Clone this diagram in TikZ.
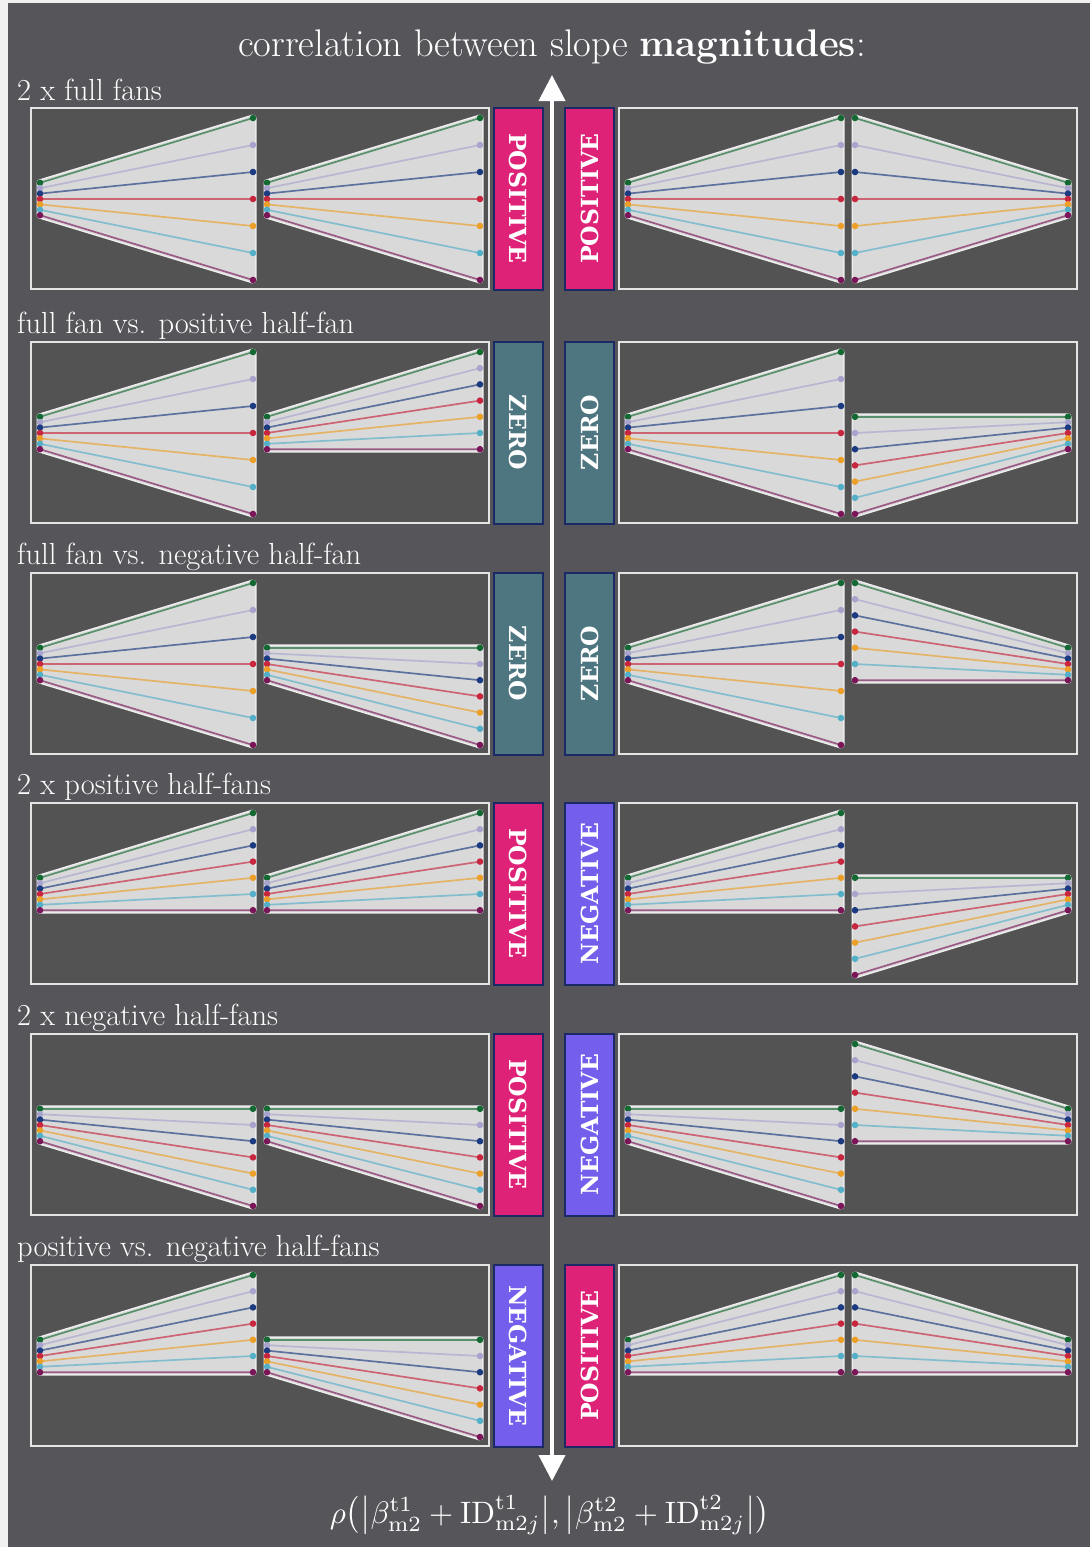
\documentclass[tikz,border=0pt]{standalone}
\usepackage{fontspec}
\usetikzlibrary{arrows.meta}
\newfontfamily\boxfont{DejaVu Serif}
\definecolor{outerbg}{RGB}{86,85,90}
\definecolor{panelbg}{RGB}{83,83,83}
\definecolor{panelline}{RGB}{228,228,228}
\definecolor{fanfill}{RGB}{217,217,217}
\definecolor{fanrim}{RGB}{238,238,238}
\definecolor{posc}{RGB}{221,34,119}
\definecolor{zeroc}{RGB}{78,118,128}
\definecolor{negc}{RGB}{115,95,235}
\definecolor{boxedge}{RGB}{27,42,102}
\definecolor{cg}{RGB}{20,105,50}
\definecolor{cl}{RGB}{168,164,206}
\definecolor{cb}{RGB}{28,58,128}
\definecolor{cr}{RGB}{200,38,62}
\definecolor{co}{RGB}{236,160,40}
\definecolor{cc}{RGB}{84,176,200}
\definecolor{cp}{RGB}{122,22,88}
\tikzset{
  panel/.style={draw=panelline, fill=panelbg, line width=2pt},
  lbox/.style={draw=boxedge, line width=2pt, text=white, inner sep=0pt,
    minimum width=182pt, minimum height=49pt,
    font=\boxfont\bfseries\fontsize{23.5}{26}\selectfont},
  rowlabel/.style={text=white, anchor=base west, inner sep=0pt,
    font=\fontsize{30.5}{34}\selectfont},
}
% #1 xa, #2 xb, #3 ytop, #4 a1, #5 d1, #6 a2, #7 d2
\newcommand{\fanplot}[7]{%
  \draw[fanrim, line width=7pt, line join=round]
    (#1,#3+#4) -- (#2,#3+#6) -- (#2,#3+#6+6*#7) -- (#1,#3+#4+6*#5) -- cycle;
  \filldraw[fill=fanfill, draw=fanfill, line width=4pt, line join=round]
    (#1,#3+#4) -- (#2,#3+#6) -- (#2,#3+#6+6*#7) -- (#1,#3+#4+6*#5) -- cycle;
  \foreach \i/\c in {0/cg,1/cl,2/cb,3/cr,4/co,5/cc,6/cp}{%
    \draw[\c, line width=1.7pt, opacity=.65] (#1,#3+#4+\i*#5) -- (#2,#3+#6+\i*#7);
    \fill[\c] (#1,#3+#4+\i*#5) circle (3.3pt);
    \fill[\c] (#2,#3+#6+\i*#7) circle (3.3pt);
  }%
}
\newcommand{\fanF}[2]{\fanplot{#1}{#1+213}{#2}{74.8}{5.4}{10}{27}}
\newcommand{\fanFm}[2]{\fanplot{#1}{#1+213}{#2}{10}{27}{74.8}{5.4}}
\newcommand{\fanP}[2]{\fanplot{#1}{#1+213}{#2}{74.8}{5.4}{10}{16.2}}
\newcommand{\fanPm}[2]{\fanplot{#1}{#1+213}{#2}{10}{16.2}{74.8}{5.4}}
\newcommand{\fanN}[2]{\fanplot{#1}{#1+213}{#2}{74.8}{5.4}{74.8}{16.2}}
\newcommand{\fanNm}[2]{\fanplot{#1}{#1+213}{#2}{74.8}{16.2}{74.8}{5.4}}
\newcommand{\twopanels}[1]{%
  \draw[panel] (31,#1) rectangle (489,#1+181);
  \draw[panel] (619,#1) rectangle (1077,#1+181);
}
\begin{document}
\begin{tikzpicture}[x=1pt,y=-1pt]
\useasboundingbox (0,0) rectangle (1090,1547);
\fill[white!88!gray] (0,0) rectangle (1090,1547);
\fill[outerbg] (8,3) rectangle (1090,1547);

\node[text=white, anchor=base, inner sep=0pt, font=\fontsize{38.5}{42}\selectfont] (title) at (552,56)
  {correlation between slope \textbf{magnitudes}:};

% row 1
\node[rowlabel] (l1) at (17,100) {2 x full fans};
\twopanels{108}
\fanF{40}{108}\fanF{267}{108}
\fanF{628}{108}\fanFm{855}{108}
\node[lbox, fill=posc, rotate=-90] (b1l) at (518.5,198.5) {POSITIVE};
\node[lbox, fill=posc, rotate=90] (b1r) at (589.5,198.5) {POSITIVE};

% row 2
\node[rowlabel] (l2) at (17,333) {full fan vs. positive half-fan};
\twopanels{342}
\fanF{40}{342}\fanP{267}{342}
\fanF{628}{342}\fanNm{855}{342}
\node[lbox, fill=zeroc, rotate=-90] (b2l) at (518.5,432.5) {ZERO};
\node[lbox, fill=zeroc, rotate=90] (b2r) at (589.5,432.5) {ZERO};

% row 3
\node[rowlabel] (l3) at (17,564) {full fan vs. negative half-fan};
\twopanels{573}
\fanF{40}{573}\fanN{267}{573}
\fanF{628}{573}\fanPm{855}{573}
\node[lbox, fill=zeroc, rotate=-90] (b3l) at (518.5,663.5) {ZERO};
\node[lbox, fill=zeroc, rotate=90] (b3r) at (589.5,663.5) {ZERO};

% row 4
\node[rowlabel] (l4) at (17,794) {2 x positive half-fans};
\twopanels{803}
\fanP{40}{803}\fanP{267}{803}
\fanP{628}{803}\fanNm{855}{803}
\node[lbox, fill=posc, rotate=-90] (b4l) at (518.5,893.5) {POSITIVE};
\node[lbox, fill=negc, rotate=90] (b4r) at (589.5,893.5) {NEGATIVE};

% row 5
\node[rowlabel] (l5) at (17,1025) {2 x negative half-fans};
\twopanels{1034}
\fanN{40}{1034}\fanN{267}{1034}
\fanN{628}{1034}\fanPm{855}{1034}
\node[lbox, fill=posc, rotate=-90] (b5l) at (518.5,1124.5) {POSITIVE};
\node[lbox, fill=negc, rotate=90] (b5r) at (589.5,1124.5) {NEGATIVE};

% row 6
\node[rowlabel] (l6) at (17,1256) {positive vs. negative half-fans};
\twopanels{1265}
\fanP{40}{1265}\fanN{267}{1265}
\fanP{628}{1265}\fanPm{855}{1265}
\node[lbox, fill=negc, rotate=-90] (b6l) at (518.5,1355.5) {NEGATIVE};
\node[lbox, fill=posc, rotate=90] (b6r) at (589.5,1355.5) {POSITIVE};

% axis arrow
\coordinate (atop) at (552,75);
\coordinate (abot) at (552,1481);
\draw[white, line width=4pt, {Triangle[width=26pt,length=26pt]}-{Triangle[width=26pt,length=26pt]}] (atop) -- (abot);

\node[text=white, anchor=base, inner sep=0pt] (formula) at (550,1523)
  {\resizebox{440pt}{!}{$\rho\bigl(\bigl|\beta^{\mathrm{t1}}_{\mathrm{m2}}+\mathrm{ID}^{\mathrm{t1}}_{\mathrm{m2}j}\bigr|,\bigl|\beta^{\mathrm{t2}}_{\mathrm{m2}}+\mathrm{ID}^{\mathrm{t2}}_{\mathrm{m2}j}\bigr|\bigr)$}};
\end{tikzpicture}
\end{document}
